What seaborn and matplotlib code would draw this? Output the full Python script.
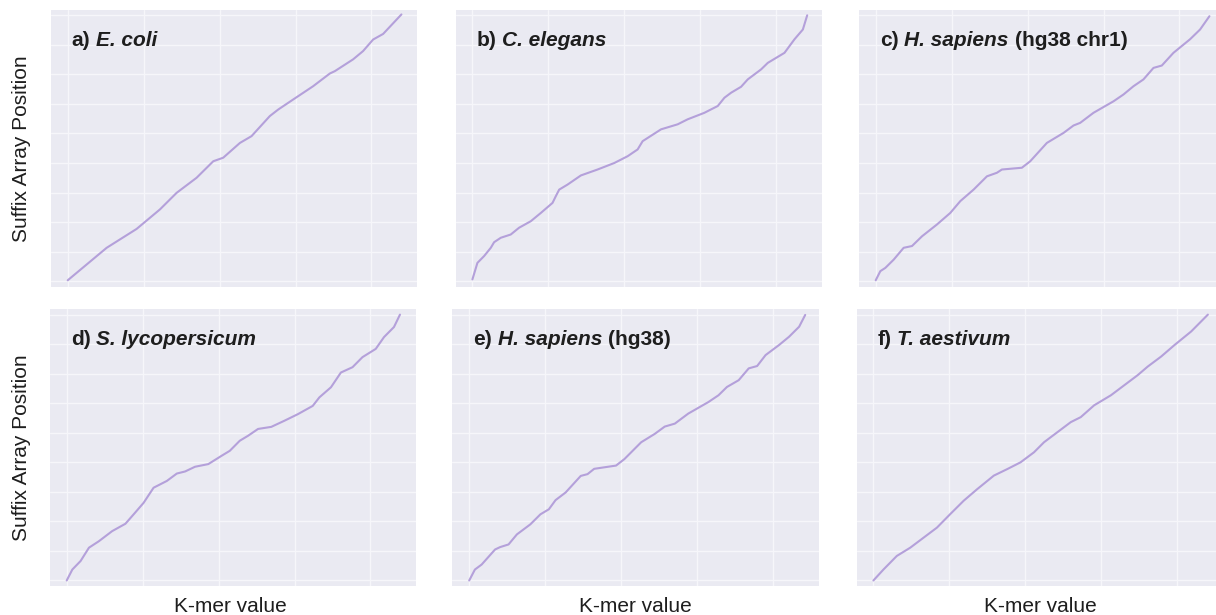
import matplotlib
matplotlib.use("Agg")
import matplotlib.pyplot as plt
import seaborn as sns
import pandas as pd

# ---------------- data ----------------
panel_labels = ["a)", "b)", "c)", "d)", "e)", "f)"]
species = ["E. coli", "C. elegans", "H. sapiens", "S. lycopersicum", "H. sapiens", "T. aestivum"]
suffixes = ["", "", "(hg38 chr1)", "", "(hg38)", ""]

x_label = "K-mer value"
y_label = "Suffix Array Position"

x_ticks = [0, 1, 2, 3, 4]
y_ticks = [0, 1, 2, 3, 4, 5, 6, 7, 8, 9]

ecoli_x = [0.0, 0.513, 0.908, 1.215, 1.434, 1.697, 1.917, 2.048, 2.268, 2.421, 2.662, 2.772,
           2.969, 3.232, 3.452, 3.518, 3.759, 3.890, 4.022, 4.154, 4.395]
ecoli_y = [0.03, 1.13, 1.77, 2.43, 2.99, 3.50, 4.06, 4.18, 4.68, 4.91, 5.59, 5.81,
           6.15, 6.60, 7.03, 7.11, 7.51, 7.79, 8.18, 8.37, 9.03]

celegans_x = [0.0, 0.066, 0.154, 0.242, 0.286, 0.374, 0.505, 0.615, 0.769, 0.901, 1.055, 1.099,
              1.143, 1.253, 1.429, 1.648, 1.868, 2.044, 2.176, 2.242, 2.484, 2.703, 2.835, 3.055,
              3.231, 3.319, 3.407, 3.538, 3.626, 3.802, 3.890, 4.110, 4.242, 4.352, 4.409]
celegans_y = [0.06, 0.62, 0.85, 1.13, 1.32, 1.47, 1.58, 1.81, 2.03, 2.31, 2.65, 2.88,
              3.10, 3.27, 3.58, 3.78, 4.00, 4.23, 4.46, 4.74, 5.14, 5.31, 5.48, 5.70,
              5.93, 6.21, 6.38, 6.58, 6.83, 7.17, 7.39, 7.73, 8.19, 8.52, 9.00]

hg38chr1_x = [0.0, 0.061, 0.127, 0.237, 0.368, 0.478, 0.610, 0.807, 0.982, 1.114, 1.289, 1.465,
              1.596, 1.662, 1.925, 2.035, 2.254, 2.474, 2.605, 2.693, 2.868, 3.132, 3.263, 3.395,
              3.526, 3.658, 3.768, 3.921, 4.140, 4.272, 4.395]
hg38chr1_y = [0.03, 0.34, 0.45, 0.73, 1.13, 1.19, 1.52, 1.92, 2.31, 2.71, 3.10, 3.55,
              3.67, 3.78, 3.84, 4.06, 4.68, 5.02, 5.27, 5.36, 5.70, 6.09, 6.32, 6.60,
              6.83, 7.22, 7.30, 7.73, 8.19, 8.52, 8.97]

slyco_x = [0.0, 0.074, 0.183, 0.293, 0.424, 0.598, 0.773, 0.882, 1.013, 1.144, 1.319, 1.450,
           1.559, 1.690, 1.865, 2.039, 2.148, 2.279, 2.389, 2.520, 2.694, 2.869, 3.044, 3.240,
           3.328, 3.480, 3.611, 3.764, 3.895, 4.070, 4.179, 4.310, 4.389]
slyco_y = [0.0, 0.37, 0.66, 1.11, 1.33, 1.67, 1.92, 2.24, 2.63, 3.14, 3.37, 3.62,
           3.69, 3.85, 3.94, 4.22, 4.39, 4.73, 4.90, 5.13, 5.20, 5.41, 5.63, 5.91,
           6.20, 6.54, 7.04, 7.22, 7.56, 7.84, 8.24, 8.58, 9.00]

hg38_x = [0.0, 0.075, 0.164, 0.341, 0.407, 0.518, 0.628, 0.805, 0.938, 1.049, 1.137, 1.270,
          1.469, 1.558, 1.646, 1.934, 2.044, 2.265, 2.442, 2.575, 2.708, 2.885, 3.150, 3.283,
          3.394, 3.549, 3.681, 3.792, 3.903, 4.080, 4.212, 4.345, 4.425]
hg38_y = [0.0, 0.37, 0.54, 1.05, 1.13, 1.22, 1.56, 1.90, 2.24, 2.41, 2.72, 2.98,
          3.54, 3.60, 3.78, 3.89, 4.11, 4.68, 4.96, 5.21, 5.31, 5.65, 6.04, 6.27,
          6.55, 6.78, 7.18, 7.26, 7.63, 7.97, 8.25, 8.59, 8.99]

taest_x = [0.0, 0.132, 0.308, 0.485, 0.661, 0.837, 1.013, 1.189, 1.366, 1.586, 1.762, 1.938,
           2.115, 2.247, 2.423, 2.599, 2.731, 2.907, 3.128, 3.304, 3.480, 3.612, 3.789, 3.965,
           4.185, 4.405]
taest_y = [0.0, 0.37, 0.83, 1.11, 1.45, 1.79, 2.25, 2.70, 3.09, 3.55, 3.77, 4.00,
           4.34, 4.68, 5.02, 5.36, 5.53, 5.93, 6.27, 6.61, 6.95, 7.24, 7.58, 7.97,
           8.43, 9.00]

series_x = [ecoli_x, celegans_x, hg38chr1_x, slyco_x, hg38_x, taest_x]
series_y = [ecoli_y, celegans_y, hg38chr1_y, slyco_y, hg38_y, taest_y]

# ---------------- style ----------------
sns.set_theme(style="darkgrid")
plt.rcParams['font.family'] = ['Liberation Sans', 'DejaVu Sans']
plt.rcParams['axes.facecolor'] = '#EAEAF2'
plt.rcParams['grid.color'] = '#F6F6FA'
plt.rcParams['grid.linewidth'] = 1.0

line_color = '#b4a0da'
text_color = '#1e1e1e'
title_fs = 15
label_fs = 15

W, H = 1216, 615
fig = plt.figure(figsize=(W / 100, H / 100), dpi=100)
fig.patch.set_facecolor('white')

# panel placement in pixels (left, top), width, height
corners = [(51, 10), (455.7, 10), (859, 10), (50, 309.3), (452.5, 309.3), (856.7, 309.3)]
aw, ah = 366, 276.5

for i, (l, t) in enumerate(corners):
    ax = fig.add_axes([l / W, 1 - (t + ah) / H, aw / W, ah / H])
    df = pd.DataFrame({"kmer": series_x[i], "pos": series_y[i]})
    sns.lineplot(data=df, x="kmer", y="pos", ax=ax, color=line_color, linewidth=1.5,
                 sort=False, estimator=None)
    ax.set_xlim(-0.22, 4.6)
    ax.set_ylim(-0.18, 9.18)
    ax.set_xticks(x_ticks)
    ax.set_yticks(y_ticks)
    ax.tick_params(labelbottom=False, labelleft=False, length=0)
    ax.set_xlabel("")
    ax.set_ylabel("")
    for s in ax.spines.values():
        s.set_visible(False)

    t1 = ax.text(0.057, 0.870, panel_labels[i], transform=ax.transAxes, fontsize=title_fs,
                 fontweight='bold', va='baseline', ha='left', color=text_color)
    t2 = ax.annotate(species[i], xy=(1, 0), xycoords=t1, xytext=(4.2, 0),
                     textcoords='offset points', va='bottom', ha='left', fontsize=title_fs,
                     fontweight='bold', fontstyle='italic', color=text_color)
    if suffixes[i]:
        ax.annotate(suffixes[i], xy=(1, 0), xycoords=t2, xytext=(4.2, 0),
                    textcoords='offset points', va='bottom', ha='left', fontsize=title_fs,
                    fontweight='bold', color=text_color)

# shared labels
for yc in [149, 448]:
    fig.text(22 / W, 1 - yc / H, y_label, rotation=90, ha='center', va='center',
             fontsize=label_fs, color=text_color)
for xc in [230, 635, 1040]:
    fig.text(xc / W, 1 - 611.5 / H, x_label, ha='center', va='baseline',
             fontsize=label_fs, color=text_color)

fig.savefig("out.png", dpi=100)
